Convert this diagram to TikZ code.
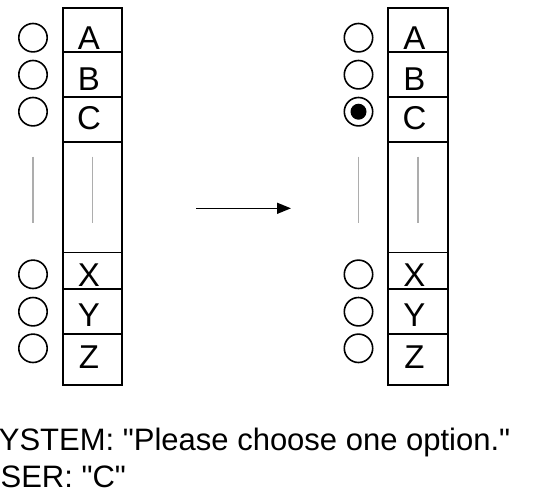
\documentclass[tikz,border=0pt]{standalone}
\usepackage{fontspec}
\setmainfont{Liberation Sans}[Ligatures=TeXOff]
\usetikzlibrary{arrows.meta}
\begin{document}
\begin{tikzpicture}[x=1pt,y=-1pt,
  cell/.style={draw, line width=1.7pt, rectangle, inner sep=0pt, outer sep=0pt, minimum width=59.6pt},
  letter/.style={anchor=base, inner sep=0pt, font=\fontsize{33}{37}\selectfont},
  radio/.style={draw, circle, line width=1.6pt, minimum size=28.4pt, inner sep=0pt},
  dot/.style={fill=black, circle, minimum size=16pt, inner sep=0pt},
  elide/.style={draw=black!32, line width=1.2pt},
  flow/.style={line width=1.5pt, -{Triangle[length=14pt,width=11pt]}},
  caption/.style={anchor=base west, inner sep=0pt, font=\fontsize{31}{37}\selectfont}]
\useasboundingbox (0,0) rectangle (544,493);
\clip (0,0) rectangle (544,493);
% two option lists, before and after the choice
\foreach \side/\dx in {L/0, R/325.5} {
  \begin{scope}[xshift=\dx pt]
    % list cells: name / centre y / height
    \foreach \n/\cy/\h in {A/30.15/44.3, B/74.8/45, C/119.5/44.4, G/197.1/110.8,
                           X/270.9/36.8, Y/311.8/45, Z/359.65/50.7}
      \node[cell, minimum height=\h pt] (\side-\n) at (92.5,\cy) {};
    % option letters
    \foreach \n/\b in {A/49, B/90, C/129.5, X/286, Y/326.5, Z/368}
      \node[letter] (\side-t\n) at (89,\b) {\n};
    % radio buttons
    \foreach \n/\cy in {A/37.7, B/74.7, C/111.7, X/274.3, Y/311.7, Z/348.3}
      \node[radio] (\side-r\n) at (33,\cy) {};
    % elision marks
    \coordinate (\side-e1) at (33,156.5);
    \coordinate (\side-e2) at (33,222.5);
    \coordinate (\side-e3) at (92.5,156.5);
    \coordinate (\side-e4) at (92.5,222.5);
    \draw[elide] (\side-e1) -- (\side-e2);
    \draw[elide] (\side-e3) -- (\side-e4);
  \end{scope}
}
% selected option
\node[dot] (R-sel) at (R-rC) {};
% transition arrow
\coordinate (arrow-from) at (196,208.3);
\coordinate (arrow-to) at (291,208.3);
\draw[flow] (arrow-from) -- (arrow-to);
% dialogue
\node[caption] (sys) at (-22,450) {SYSTEM: "Please choose one option."};
\node[caption] (usr) at (-22,487) {USER: "C"};
\end{tikzpicture}
\end{document}
